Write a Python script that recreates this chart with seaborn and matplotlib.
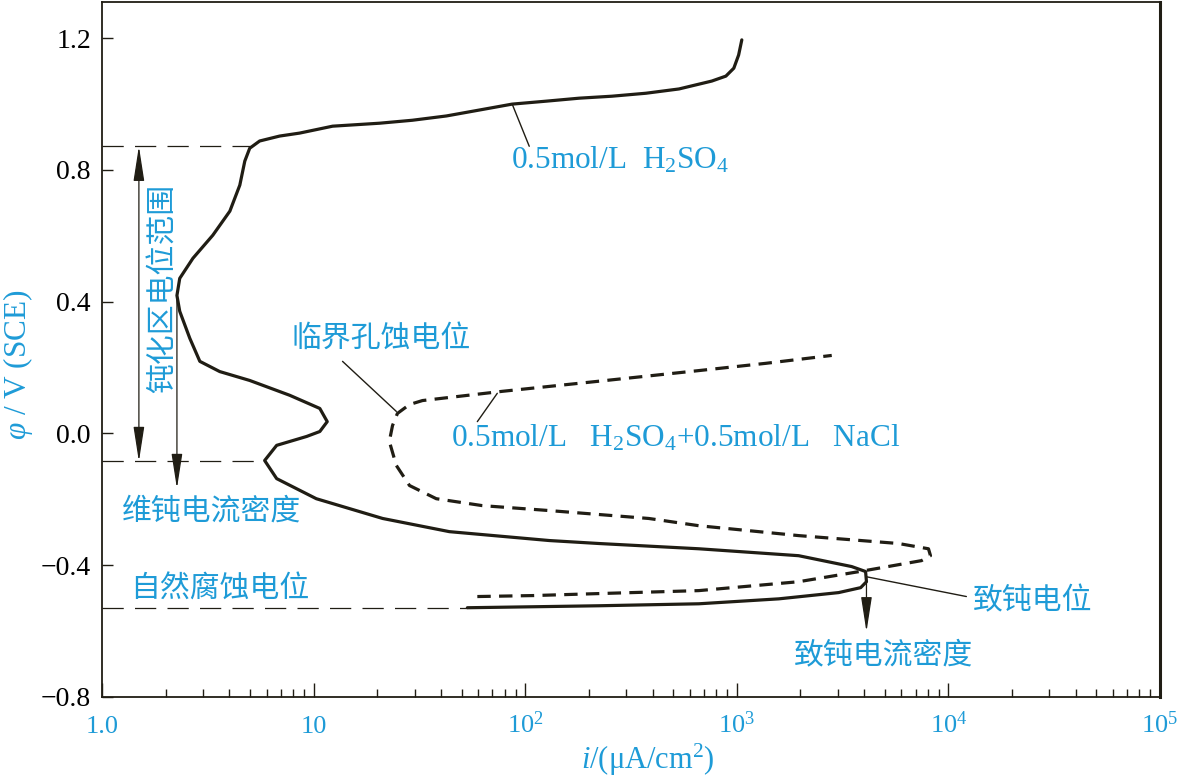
import matplotlib
matplotlib.use('Agg')
import matplotlib.pyplot as plt
import seaborn as sns
import pandas as pd

# 0.5 mol/L H2SO4 (solid curve), current density in uA/cm2, potential in V(SCE)
i_h2so4 = [53.3, 110, 223, 662, 1580, 3030, 3850, 4100, 4060, 3490, 1960, 662, 223, 130,
           43.8, 21.2, 10.3, 6.69, 5.87, 6.69, 9.27, 10.7, 11.6, 10.7, 7.71, 4.99, 3.60,
           2.90, 2.60, 2.33, 2.26, 2.33, 2.69, 3.34, 4.02, 4.48, 4.73, 4.99, 5.56, 6.91,
           8.59, 12.3, 20.5, 29.3, 42.4, 60.7, 86.8, 126, 180, 257, 372, 533, 762, 888,
           968, 1020, 1056]
e_h2so4 = [-0.529, -0.526, -0.523, -0.517, -0.502, -0.483, -0.468, -0.450, -0.419, -0.404,
           -0.371, -0.350, -0.334, -0.325, -0.298, -0.258, -0.198, -0.137, -0.082, -0.036,
           -0.009, 0.006, 0.036, 0.076, 0.116, 0.161, 0.188, 0.219, 0.289, 0.371, 0.419,
           0.471, 0.532, 0.602, 0.675, 0.754, 0.827, 0.866, 0.888, 0.903, 0.912, 0.933,
           0.942, 0.951, 0.964, 0.982, 1.000, 1.009, 1.018, 1.024, 1.033, 1.046, 1.070,
           1.085, 1.109, 1.149, 1.195]

# 0.5 mol/L H2SO4 + 0.5 mol/L NaCl (dashed curve)
i_nacl = [59.4, 110, 223, 662, 1960, 4060, 7460, 8230, 8050, 5810, 1960, 662, 384, 130,
          62.7, 38.0, 28.4, 24.6, 22.8, 23.6, 24.9, 28.4, 32.7, 77.9, 241, 662, 1370, 2810]
e_nacl = [-0.495, -0.492, -0.486, -0.477, -0.450, -0.416, -0.386, -0.371, -0.350, -0.334,
          -0.310, -0.280, -0.258, -0.234, -0.219, -0.198, -0.158, -0.097, -0.024, 0.024,
          0.061, 0.088, 0.100, 0.128, 0.161, 0.191, 0.213, 0.237]

# characteristic potentials / currents
e_pass_top = 0.872      # upper end of passive range
e_pass_bottom = -0.085  # lower end of passive range
e_corr = -0.529         # natural corrosion potential
i_pass_top = 4.99
i_pass_bottom = 5.87
i_corr = 53.3
i_maint = 2.26          # passive (maintaining) current density
e_maint = 0.419
i_crit = 4100           # critical passivation current density
e_crit = -0.450

y_ticks = [-0.8, -0.4, 0.0, 0.4, 0.8, 1.2]
y_ticklabels = ['\u22120.8', '\u22120.4', '0.0', '0.4', '0.8', '1.2']
x_ticks = [1, 10, 100, 1000, 10000, 100000]
x_ticklabels = ['1.0', '10', '$10^{2}$', '$10^{3}$', '$10^{4}$', '$10^{5}$']

BLUE = '#1e9bd7'
INK = '#201d14'
SERIF = ['Liberation Serif', 'DejaVu Serif']
CJK = ['Noto Sans CJK SC', 'DejaVu Sans']

sns.set_theme(style='white')
plt.rcParams['font.family'] = SERIF
plt.rcParams['mathtext.fontset'] = 'custom'
plt.rcParams['mathtext.rm'] = 'Liberation Serif'
plt.rcParams['mathtext.it'] = 'Liberation Serif:italic'

df_a = pd.DataFrame({'i': i_h2so4, 'E': e_h2so4})
df_b = pd.DataFrame({'i': i_nacl, 'E': e_nacl})

fig = plt.figure(figsize=(11.86, 7.79), dpi=100)
ax = fig.add_axes([102 / 1186, 1 - 697 / 779, 1058 / 1186, 695 / 779])

sns.lineplot(data=df_a, x='i', y='E', sort=False, estimator=None, color=INK,
             linewidth=2.3, ax=ax)
sns.lineplot(data=df_b, x='i', y='E', sort=False, estimator=None, color=INK,
             linewidth=2.3, linestyle=(0, (4.2, 2.6)), ax=ax)

ax.set_xscale('log')
ax.set_xlim(1, 1e5)
ax.set_ylim(-0.8, 1.31)

# thin dashed reference lines
thin = dict(color=INK, lw=0.9, linestyle=(0, (17, 9)))
ax.plot([1, i_pass_top], [e_pass_top, e_pass_top], **thin)
ax.plot([1, i_pass_bottom], [e_pass_bottom, e_pass_bottom], **thin)
ax.plot([1, i_corr], [e_corr, e_corr], **thin)

arrow_kw = dict(color=INK, lw=0.9, shrinkA=0, shrinkB=0)
ax.annotate('', xy=(1.494, e_pass_top), xytext=(1.494, e_pass_bottom),
            arrowprops=dict(arrowstyle='<|-|>,head_length=1.8,head_width=0.28', **arrow_kw))
ax.annotate('', xy=(i_maint, -0.167), xytext=(i_maint, e_maint),
            arrowprops=dict(arrowstyle='-|>,head_length=1.8,head_width=0.28', **arrow_kw))
ax.annotate('', xy=(i_crit, -0.602), xytext=(i_crit, e_crit),
            arrowprops=dict(arrowstyle='-|>,head_length=1.8,head_width=0.28', **arrow_kw))

# leader lines
lead = dict(color=INK, lw=1.0)
ax.plot([86.8, 104.5], [1.000, 0.872], **lead)
ax.plot([13.7, 24.6], [0.219, 0.067], **lead)
ax.plot([73.8, 59.4], [0.122, 0.036], **lead)
ax.plot([4100, 12160], [-0.435, -0.495], **lead)

# annotations
ax.text(85.9, 0.830, '0.5mol/L  H$_2$SO$_4$', color=BLUE, fontsize=22.5,
        family=SERIF, va='center', ha='left')
ax.text(44.8, -0.015, '0.5mol/L   H$_2$SO$_4$+0.5mol/L   NaCl', color=BLUE, fontsize=22.5,
        family=SERIF, va='center', ha='left')
ax.text(7.88, 0.289, '临界孔蚀电位', color=BLUE, fontsize=21.5, family=CJK,
        va='center', ha='left')
ax.text(1.94, 0.441, '钝化区电位范围', color=BLUE, fontsize=21.5, family=CJK,
        va='center', ha='center', rotation=90)
ax.text(1.243, -0.234, '维钝电流密度', color=BLUE, fontsize=21.5, family=CJK,
        va='center', ha='left')
ax.text(1.355, -0.471, '自然腐蚀电位', color=BLUE, fontsize=21.5, family=CJK,
        va='center', ha='left')
ax.text(13100, -0.508, '致钝电位', color=BLUE, fontsize=21.5, family=CJK,
        va='center', ha='left')
ax.text(1857, -0.672, '致钝电流密度', color=BLUE, fontsize=21.5, family=CJK,
        va='center', ha='left')

# axes styling
for s in ax.spines.values():
    s.set_color(INK)
    s.set_linewidth(1.3)
ax.spines['right'].set_linewidth(2.2)

ax.set_yticks(y_ticks)
ax.set_yticklabels(y_ticklabels)
ax.set_xticks(x_ticks)
ax.set_xticklabels(x_ticklabels)
ax.xaxis.set_minor_locator(matplotlib.ticker.LogLocator(base=10, subs=range(2, 10), numticks=20))
ax.xaxis.set_minor_formatter(matplotlib.ticker.NullFormatter())
ax.tick_params(axis='y', which='major', direction='in', length=8, width=1.0,
               labelsize=20, labelcolor='black', color=INK, pad=8, right=False, left=True)
ax.tick_params(axis='x', which='major', direction='in', length=10, width=1.0,
               labelsize=19, labelcolor=BLUE, color=INK, pad=26, top=False, bottom=True)
ax.tick_params(axis='x', which='minor', direction='in', length=5.5, width=1.0,
               color=INK, top=False, bottom=True)
for lab in ax.get_xticklabels():
    lab.set_va('baseline')
ax.set_xlabel('')
ax.set_ylabel('')

fig.text(648 / 1186, 1 - 760 / 779, '$i$/(μA/cm$^2$)', color=BLUE, fontsize=22,
         family=SERIF, ha='center', va='center')
fig.text(18 / 1186, 1 - 365 / 779, r'$\varphi$ / V (SCE)', color=BLUE, fontsize=22.5,
         family=SERIF, ha='center', va='center', rotation=90)

fig.savefig('out.png', dpi=100, facecolor='white')
